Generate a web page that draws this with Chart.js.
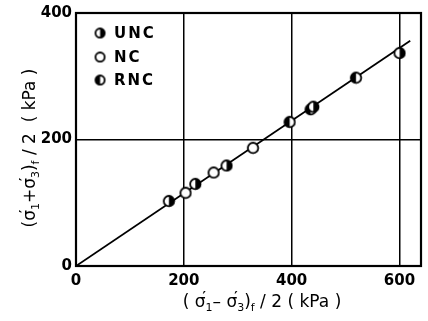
<!DOCTYPE html>
<html><head><meta charset="utf-8">
<script src="https://cdn.jsdelivr.net/npm/chart.js@4"></script>
<style>html,body{margin:0;padding:0;background:#fff}#wrap{width:428px;height:321px}</style>
</head><body><div id="wrap"><canvas id="c" width="428" height="321"></canvas></div>
<script>
// ---- data ----
const uncPoints = [[172,103],[221,130],[279,159],[440,252],[600,337]];
const ncPoints  = [[203,116],[255,148],[328,187]];
const rncPoints = [[396,228],[435,248],[519,298]];
const fitLine   = [[0,0],[620,356]];
const xTicks = [0,200,400,600];
const yTicks = [0,200,400];
const legendLabels = ['UNC','NC','RNC'];

function marker(kind, r){
  const s = 2*r+4, c = document.createElement('canvas');
  c.width = s; c.height = s;
  const g = c.getContext('2d'), m = s/2;
  g.beginPath(); g.arc(m,m,r,0,Math.PI*2); g.fillStyle='#fff'; g.fill();
  if(kind!=='open'){
    g.beginPath();
    if(kind==='right'){ g.arc(m,m,r,-Math.PI/2,Math.PI/2); }
    else { g.arc(m,m,r,Math.PI/2,Math.PI*1.5); }
    g.closePath(); g.fillStyle='#000'; g.fill();
  }
  g.beginPath(); g.arc(m,m,r,0,Math.PI*2); g.lineWidth=1.8; g.strokeStyle='#000'; g.stroke();
  return c;
}
const mUNC = marker('right',5.2), mNC = marker('open',5.2), mRNC = marker('left',5.2);
const mUNCs = marker('right',4.6), mNCs = marker('open',4.6), mRNCs = marker('left',4.6);
const toXY = a => a.map(p=>({x:p[0],y:p[1]}));

const FONT = '"DejaVu Sans", sans-serif';

const decor = {
  id:'decor',
  afterDraw(chart){
    const {ctx, chartArea:a} = chart;
    ctx.save();
    ctx.strokeStyle='#000'; ctx.lineWidth=2.2;
    ctx.strokeRect(a.left, a.top, a.right-a.left, a.bottom-a.top);
    // legend
    const mk=[mUNCs,mNCs,mRNCs], ys=[33,57,80];
    ctx.fillStyle='#000'; ctx.textBaseline='middle'; ctx.textAlign='left';
    ctx.font='bold 15px '+FONT;
    if('letterSpacing' in ctx) ctx.letterSpacing='2px';
    for(let i=0;i<3;i++){
      ctx.drawImage(mk[i], 100-mk[i].width/2, ys[i]-mk[i].height/2);
      ctx.fillText(legendLabels[i], 114, ys[i]+1);
    }
    if('letterSpacing' in ctx) ctx.letterSpacing='0px';
    // axis titles with subscripts
    function fontOf(p){ return p.sub ? '11px '+FONT : (p.pr ? 'bold 13px '+FONT : '17px '+FONT); }
    function rich(parts){
      let w=0;
      parts.forEach(p=>{ctx.font=fontOf(p); w+=p.pr?0:ctx.measureText(p.t).width;});
      return w;
    }
    function drawRich(parts, x, y){
      ctx.textAlign='left'; ctx.textBaseline='alphabetic';
      let cx=x;
      parts.forEach(p=>{
        ctx.font=fontOf(p);
        if(p.pr){ ctx.fillText(p.t, cx-3, y-7); return; }
        ctx.fillText(p.t, cx, y+(p.sub?4:0));
        cx+=ctx.measureText(p.t).width;
      });
    }
    const xt=[{t:'( σ'},{t:'′',pr:true},{t:'1',sub:true},{t:'– σ'},{t:'′',pr:true},{t:'3',sub:true},{t:')'},{t:'f',sub:true},{t:' / 2 ( kPa )'}];
    const wx=rich(xt);
    drawRich(xt, 262-wx/2, 307);
    const yt=[{t:'(σ'},{t:'′',pr:true},{t:'1',sub:true},{t:'+σ'},{t:'′',pr:true},{t:'3',sub:true},{t:')'},{t:'f',sub:true},{t:' / 2  ( kPa )'}];
    const wy=rich(yt);
    ctx.save(); ctx.translate(35,148); ctx.rotate(-Math.PI/2);
    drawRich(yt, -wy/2, 0);
    ctx.restore();
    ctx.restore();
  }
};

new Chart(document.getElementById('c'), {
  type:'scatter',
  data:{datasets:[
    {type:'line', data:toXY(fitLine), borderColor:'#000', borderWidth:1.8, pointRadius:0, fill:false, order:2},
    {data:toXY(uncPoints), pointStyle:mUNC, pointRadius:6, order:1},
    {data:toXY(ncPoints), pointStyle:mNC, pointRadius:6, order:1},
    {data:toXY(rncPoints), pointStyle:mRNC, pointRadius:6, order:1}
  ]},
  options:{
    responsive:false, animation:false, devicePixelRatio:1,
    layout:{padding:{top:5,right:4,left:0,bottom:0}},
    plugins:{legend:{display:false}, tooltip:{enabled:false}},
    scales:{
      x:{type:'linear', min:0, max:640,
        afterBuildTicks(s){ s.ticks = xTicks.map(v=>({value:v})); },
        afterFit(s){ s.height=55; },
        grid:{color:'#000', lineWidth:1.5, drawTicks:false},
        border:{display:false},
        ticks:{color:'#000', padding:6, font:{family:FONT, size:15, weight:'bold'}, maxRotation:0}
      },
      y:{type:'linear', min:0, max:400,
        afterBuildTicks(s){ s.ticks = yTicks.map(v=>({value:v})); },
        afterFit(s){ s.width=76; },
        grid:{color:'#000', lineWidth:1.5, drawTicks:false},
        border:{display:false},
        ticks:{color:'#000', padding:4, font:{family:FONT, size:15, weight:'bold'}}
      }
    }
  },
  plugins:[decor]
});
</script></body></html>
